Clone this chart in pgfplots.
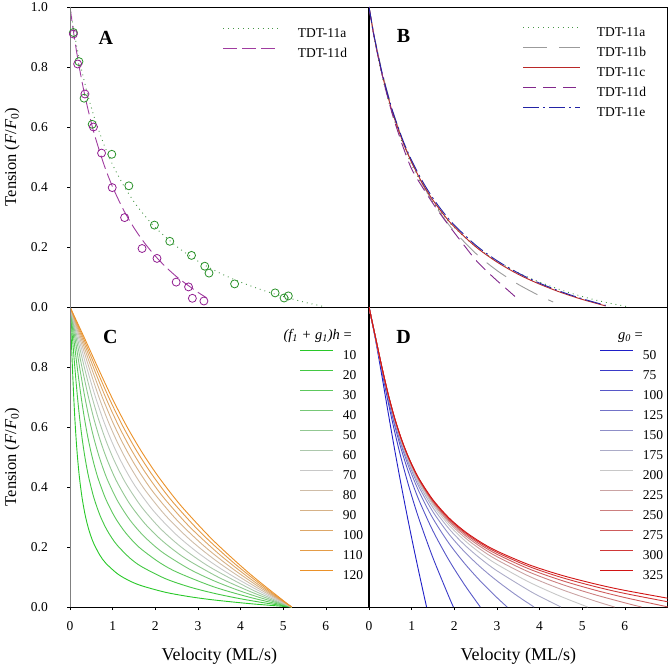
\documentclass[border=0pt]{standalone}
\usepackage{pgfplots}
\pgfplotsset{compat=1.18}
\usepackage{fontspec}
\setmainfont{Liberation Serif}

% series colours
\definecolor{c11a}{RGB}{70,150,70}
\definecolor{c11b}{RGB}{155,155,155}
\definecolor{c11c}{RGB}{185,40,40}
\definecolor{c11d}{RGB}{130,40,140}
\definecolor{c11e}{RGB}{35,35,165}
\definecolor{ptgreen}{RGB}{40,145,40}
\definecolor{ptpurple}{RGB}{145,30,145}
\definecolor{lineA}{RGB}{160,60,160}
% panel C: (f1+g1)h
\definecolor{h10}{RGB}{40,200,40}
\definecolor{h20}{RGB}{67,200,67}
\definecolor{h30}{RGB}{93,200,93}
\definecolor{h40}{RGB}{120,200,120}
\definecolor{h50}{RGB}{147,200,147}
\definecolor{h60}{RGB}{173,200,173}
\definecolor{h70}{RGB}{200,200,200}
\definecolor{h80}{RGB}{207,189,168}
\definecolor{h90}{RGB}{214,178,136}
\definecolor{h100}{RGB}{221,167,104}
\definecolor{h110}{RGB}{228,156,72}
\definecolor{h120}{RGB}{235,145,40}
% panel D: g0
\definecolor{g50}{RGB}{30,30,200}
\definecolor{g75}{RGB}{58,58,200}
\definecolor{g100}{RGB}{87,87,200}
\definecolor{g125}{RGB}{115,115,200}
\definecolor{g150}{RGB}{143,143,200}
\definecolor{g175}{RGB}{172,172,200}
\definecolor{g200}{RGB}{200,200,200}
\definecolor{g225}{RGB}{202,164,164}
\definecolor{g250}{RGB}{204,128,128}
\definecolor{g275}{RGB}{206,92,92}
\definecolor{g300}{RGB}{208,56,56}
\definecolor{g325}{RGB}{210,20,20}

\tikzset{letter/.style={font=\bfseries\fontsize{20}{24}\selectfont, inner sep=0pt}}

\pgfplotsset{
  panel/.style={
    width=298.5pt, height=300pt, scale only axis,
    xmin=0, xmax=7, ymin=0, ymax=1,
    axis line style={line width=0.9pt},
    tick align=outside, major tick length=3pt,
    tick style={line width=0.7pt, black},
    xtick pos=left, ytick pos=left,
    tick label style={font=\fontsize{13.5}{16}\selectfont},
    /pgf/number format/assume math mode=true,
    xticklabel style={inner sep=0pt, yshift=-11pt},
    yticklabel style={inner sep=0pt, xshift=-19pt},
    every axis plot/.append style={line width=0.9pt},
    legend cell align=left,
    legend style={draw=none, fill=none, inner sep=0pt, outer sep=0pt,
      anchor=north west, font=\fontsize{13.5}{16}\selectfont,
      nodes={inner sep=0pt, text height=9.5pt, text depth=0pt},
      row sep=10.3pt},
    every axis y label/.style={at={(axis description cs:-0.194,0.5)},
      rotate=90, anchor=center, font=\fontsize{16.5}{20}\selectfont},
    every axis x label/.style={at={(axis description cs:0.5,-0.163)},
      anchor=center, font=\fontsize{18}{22}\selectfont},
  },
  shortleg/.style={legend image code/.code={\draw[##1] (0pt,4.5pt) -- (33pt,4.5pt);}},
  longleg/.style={legend image code/.code={\draw[##1] (0pt,4.5pt) -- (57pt,4.5pt);}},
}

\begin{document}
\begin{tikzpicture}
\useasboundingbox (0,0) rectangle (669pt,-668pt);

% ---------------- A ----------------
\begin{axis}[panel, at={(70pt,-7pt)}, anchor=north west,
  xtick=\empty, ytick={0,0.2,0.4,0.6,0.8,1}, yticklabels={0.0,0.2,0.4,0.6,0.8,1.0},
  ylabel={Tension (\textit{F}/\textit{F}\textsubscript{0})},
  longleg, legend style={at={(0.5126,0.9297)}, column sep=17pt}]
\addplot[c11a, dash pattern=on 0.9pt off 4pt, smooth] coordinates {
(0,1) (0.1,0.914) (0.2,0.839) (0.3,0.774) (0.4,0.716) (0.5,0.665) (0.6,0.619)
(0.8,0.540) (1.0,0.474) (1.25,0.407) (1.5,0.351) (1.75,0.305) (2.0,0.265)
(2.5,0.202) (3.0,0.153) (3.5,0.114) (4.0,0.083) (4.5,0.057) (5.0,0.035)
(5.5,0.016) (6.0,0)};
\addlegendentry{TDT-11a}
\addplot[lineA, dash pattern=on 14pt off 5pt, smooth] coordinates {
(0,1) (0.1,0.900) (0.2,0.813) (0.3,0.738) (0.4,0.672) (0.5,0.614) (0.6,0.562)
(0.8,0.473) (1.0,0.400) (1.25,0.325) (1.5,0.264) (1.75,0.213) (2.0,0.170)
(2.25,0.133) (2.5,0.101) (2.75,0.074) (3.0,0.049) (3.2,0.031)};
\addlegendentry{TDT-11d}
\addplot[only marks, mark=o, mark size=4pt, ptgreen, mark options={solid, line width=0.8pt}, forget plot] coordinates {
(0.08,0.915) (0.21,0.818) (0.33,0.696) (0.52,0.609) (0.98,0.509) (1.38,0.404)
(1.98,0.273) (2.34,0.219) (2.85,0.172) (3.16,0.136) (3.26,0.113) (3.86,0.077)
(4.81,0.047) (5.02,0.030) (5.12,0.037)};
\addplot[only marks, mark=o, mark size=4pt, ptpurple, mark options={solid, line width=0.8pt}, forget plot] coordinates {
(0.08,0.910) (0.18,0.810) (0.35,0.710) (0.55,0.600) (0.74,0.513) (0.99,0.398)
(1.28,0.298) (1.69,0.195) (2.04,0.162) (2.49,0.083) (2.78,0.067) (2.87,0.029)
(3.14,0.020)};
\node[letter] at (axis description cs:0.12,0.897) {A};
\draw[gray, line width=0.9pt] (rel axis cs:0,0) -- (rel axis cs:0,1);
\end{axis}

% ---------------- B ----------------
\begin{axis}[panel, at={(369pt,-7pt)}, anchor=north west,
  xtick=\empty, ytick=\empty,
  longleg, legend style={at={(0.5159,0.933)}, column sep=16pt}]
\addplot[c11a, dash pattern=on 0.9pt off 4pt, smooth] coordinates {
(0,1) (0.1,0.914) (0.2,0.839) (0.3,0.774) (0.4,0.716) (0.5,0.665) (0.6,0.619)
(0.8,0.540) (1.0,0.474) (1.25,0.407) (1.5,0.351) (1.75,0.305) (2.0,0.265)
(2.5,0.202) (3.0,0.153) (3.5,0.114) (4.0,0.083) (4.5,0.057) (5.0,0.035)
(5.5,0.017) (6.1,0)};
\addlegendentry{TDT-11a}
\addplot[c11b, dash pattern=on 24pt off 12pt, smooth] coordinates {
(0,1) (0.1,0.921) (0.2,0.851) (0.3,0.788) (0.4,0.732) (0.5,0.681) (0.6,0.634)
(0.8,0.552) (1.0,0.483) (1.25,0.4105) (1.5,0.3494) (1.75,0.2973) (2.0,0.2525)
(2.5,0.1791) (3.0,0.1217) (3.5,0.0755) (4.0,0.0375) (4.32,0.0166)};
\addlegendentry{TDT-11b}
\addplot[c11c, smooth] coordinates {
(0,1) (0.1,0.917) (0.2,0.845) (0.3,0.781) (0.4,0.724) (0.5,0.673) (0.6,0.627)
(0.8,0.548) (1.0,0.482) (1.25,0.413) (1.5,0.356) (1.75,0.308) (2.0,0.267)
(2.5,0.201) (3.0,0.150) (3.5,0.109) (4.0,0.0762) (4.5,0.0486) (5.0,0.0253)
(5.55,0.0036)};
\addlegendentry{TDT-11c}
\addplot[c11d, dash pattern=on 13pt off 7pt, smooth] coordinates {
(0,1) (0.1,0.915) (0.2,0.843) (0.3,0.779) (0.4,0.72) (0.5,0.667) (0.6,0.618)
(0.8,0.533) (1.0,0.46) (1.25,0.40) (1.5,0.345) (1.75,0.295) (2.0,0.248)
(2.25,0.202) (2.5,0.157) (2.75,0.121) (3.0,0.088) (3.25,0.057) (3.47,0.029)};
\addlegendentry{TDT-11d}
\addplot[c11e, dash pattern=on 16pt off 4pt on 2pt off 4pt, smooth] coordinates {
(0,1) (0.1,0.919) (0.2,0.848) (0.3,0.785) (0.4,0.729) (0.5,0.679) (0.6,0.633)
(0.8,0.554) (1.0,0.4885) (1.25,0.420) (1.5,0.3626) (1.75,0.3144) (2.0,0.2732)
(2.5,0.2064) (3.0,0.1546) (3.5,0.1133) (4.0,0.0795) (4.5,0.0514) (5.0,0.0277)
(5.55,0.0055)};
\addlegendentry{TDT-11e}
\node[letter] at (axis description cs:0.1156,0.903) {B};
\end{axis}

% ---------------- C ----------------
\begin{axis}[panel, at={(70pt,-307pt)}, anchor=north west,
  xtick={0,1,2,3,4,5,6}, ytick={0,0.2,0.4,0.6,0.8}, yticklabels={0.0,0.2,0.4,0.6,0.8},
  xlabel={Velocity (ML/s)},
  ylabel={Tension (\textit{F}/\textit{F}\textsubscript{0})},
  shortleg, legend style={at={(0.7705,0.8563)}, column sep=9pt}]
\addplot[h10, smooth] coordinates {
(0,1) (0.028,0.9) (0.056,0.8013) (0.084,0.7106) (0.112,0.6326) (0.14,0.5674)
(0.168,0.5129) (0.196,0.4672) (0.224,0.4285) (0.28,0.3670) (0.35,0.3104)
(0.42,0.2685) (0.49,0.2363) (0.56,0.2108) (0.70,0.1728) (0.84,0.1459)
(1.12,0.1100) (1.40,0.0870) (1.68,0.0708) (2.24,0.0490) (2.80,0.0345)
(3.36,0.0237) (4.20,0.0114) (5.04,0.0017) (5.2,0)};
\addlegendentry{10}
\addplot[h20, smooth] coordinates {
(0,1) (0.056,0.8999) (0.112,0.8011) (0.168,0.7102) (0.224,0.6320) (0.28,0.5664)
(0.336,0.5116) (0.392,0.4656) (0.448,0.4265) (0.56,0.3641) (0.70,0.3066)
(0.84,0.2637) (0.98,0.2304) (1.12,0.2038) (1.40,0.1636) (1.68,0.1345)
(2.24,0.0943) (2.80,0.0669) (3.36,0.0463) (3.92,0.0296) (4.48,0.0156) (5.2,0)};
\addlegendentry{20}
\addplot[h30, smooth] coordinates {
(0,1) (0.084,0.8999) (0.168,0.8008) (0.252,0.7095) (0.336,0.6309) (0.42,0.5648)
(0.504,0.5094) (0.588,0.4628) (0.672,0.4231) (0.84,0.3594) (1.05,0.3001)
(1.26,0.2555) (1.47,0.2204) (1.68,0.1920) (2.10,0.1482) (2.52,0.1154)
(3.36,0.0678) (4.20,0.0329) (5.04,0.0048) (5.2,0)};
\addlegendentry{30}
\addplot[h40, smooth] coordinates {
(0,1) (0.112,0.8998) (0.224,0.8004) (0.336,0.7086) (0.448,0.6293) (0.56,0.5625)
(0.672,0.5063) (0.784,0.4588) (0.896,0.4182) (1.12,0.3527) (1.40,0.2910)
(1.68,0.2438) (1.96,0.2062) (2.24,0.1752) (2.80,0.1263) (3.36,0.0883)
(3.92,0.0570) (4.48,0.0302) (5.2,0)};
\addlegendentry{40}
\addplot[h50, smooth] coordinates {
(0,1) (0.14,0.8996) (0.28,0.7998) (0.42,0.7074) (0.56,0.6273) (0.70,0.5595)
(0.84,0.5023) (0.98,0.4537) (1.12,0.4119) (1.40,0.3439) (1.75,0.2791)
(2.10,0.2287) (2.45,0.1878) (2.80,0.1535) (3.50,0.0978) (4.20,0.0530)
(4.76,0.0220) (5.2,0)};
\addlegendentry{50}
\addplot[h60, smooth] coordinates {
(0,1) (0.168,0.8995) (0.336,0.7992) (0.504,0.7059) (0.672,0.6248) (0.84,0.5558)
(1.008,0.4973) (1.176,0.4473) (1.344,0.4041) (1.68,0.3331) (2.10,0.2643)
(2.52,0.2099) (2.94,0.1650) (3.36,0.1265) (4.20,0.0625) (4.704,0.0296) (5.2,0)};
\addlegendentry{60}
\addplot[h70, smooth] coordinates {
(0,1) (0.196,0.8992) (0.392,0.7984) (0.588,0.7041) (0.784,0.6217) (0.98,0.5514)
(1.176,0.4913) (1.372,0.4396) (1.568,0.3947) (1.96,0.3202) (2.45,0.2467)
(2.94,0.1875) (3.43,0.1376) (3.92,0.0943) (4.508,0.0482) (5.2,0)};
\addlegendentry{70}
\addplot[h80, smooth] coordinates {
(0,1) (0.224,0.8990) (0.448,0.7974) (0.672,0.7021) (0.896,0.6182) (1.12,0.5462)
(1.344,0.4843) (1.568,0.4307) (1.792,0.3838) (2.24,0.3050) (2.80,0.2261)
(3.36,0.1613) (3.92,0.1057) (4.48,0.0566) (5.2,0)};
\addlegendentry{80}
\addplot[h90, smooth] coordinates {
(0,1) (0.252,0.8987) (0.504,0.7963) (0.756,0.6997) (1.008,0.6142) (1.26,0.5402)
(1.512,0.4763) (1.764,0.4205) (2.016,0.3713) (2.52,0.2877) (3.15,0.2025)
(3.78,0.1312) (4.41,0.0691) (5.04,0.0134) (5.2,0)};
\addlegendentry{90}
\addplot[h100, smooth] coordinates {
(0,1) (0.28,0.8984) (0.56,0.7951) (0.84,0.6970) (1.12,0.6096) (1.40,0.5335)
(1.68,0.4672) (1.96,0.4089) (2.24,0.3571) (2.80,0.2680) (3.50,0.1758)
(4.20,0.0972) (4.76,0.0410) (5.2,0)};
\addlegendentry{100}
\addplot[h110, smooth] coordinates {
(0,1) (0.308,0.8981) (0.616,0.7937) (0.924,0.6940) (1.232,0.6045) (1.54,0.5260)
(1.848,0.4571) (2.156,0.3960) (2.464,0.3412) (3.08,0.2461) (3.85,0.1459)
(4.62,0.0592) (5.2,0)};
\addlegendentry{110}
\addplot[h120, smooth] coordinates {
(0,1) (0.336,0.8977) (0.672,0.7922) (1.008,0.6906) (1.344,0.5989) (1.68,0.5177)
(2.016,0.4458) (2.352,0.3817) (2.688,0.3237) (3.36,0.2218) (4.20,0.1128)
(5.04,0.0171) (5.2,0)};
\addlegendentry{120}
\node[letter] at (axis description cs:0.135,0.9) {C};
\node[anchor=base east, inner sep=0pt, font=\fontsize{14.5}{17}\selectfont]
  at (axis description cs:0.9447,0.8913) {\textit{(f\textsubscript{1} + g\textsubscript{1})h} =};
\draw[gray, line width=0.9pt] (rel axis cs:0,0) -- (rel axis cs:0,1);
\end{axis}

% ---------------- D ----------------
\begin{axis}[panel, at={(369pt,-307pt)}, anchor=north west,
  xtick={0,1,2,3,4,5,6}, ytick=\empty,
  xlabel={Velocity (ML/s)},
  shortleg, legend style={at={(0.7739,0.8563)}, column sep=9pt}]
\addplot[g50, smooth] coordinates {
(0,1) (0.15,0.8927) (0.3,0.7724) (0.45,0.6474) (0.6,0.5257) (0.75,0.4100)
(0.9,0.3004) (1.05,0.1960) (1.2,0.0962) (1.35,0)};
\addlegendentry{50}
\addplot[g75, smooth] coordinates {
(0,1) (0.15,0.8968) (0.3,0.7885) (0.45,0.6827) (0.6,0.5854) (0.75,0.4979)
(0.9,0.4191) (1.05,0.3475) (1.2,0.2818) (1.5,0.1638) (1.875,0.0339) (1.98,0)};
\addlegendentry{75}
\addplot[g100, smooth] coordinates {
(0,1) (0.15,0.8982) (0.3,0.7942) (0.45,0.6950) (0.6,0.6063) (0.75,0.5286)
(0.9,0.4605) (1.05,0.4004) (1.2,0.3466) (1.5,0.2535) (1.875,0.1560)
(2.25,0.0721) (2.61,0)};
\addlegendentry{100}
\addplot[g125, smooth] coordinates {
(0,1) (0.15,0.8988) (0.3,0.7968) (0.45,0.7007) (0.6,0.6159) (0.75,0.5427)
(0.9,0.4796) (1.05,0.4248) (1.2,0.3765) (1.5,0.2949) (1.875,0.2123)
(2.25,0.1438) (2.625,0.0844) (3.0,0.0314) (3.24,0)};
\addlegendentry{125}
\addplot[g150, smooth] coordinates {
(0,1) (0.15,0.8992) (0.3,0.7982) (0.45,0.7038) (0.6,0.6211) (0.75,0.5504)
(0.9,0.4900) (1.05,0.4380) (1.2,0.3927) (1.5,0.3174) (1.875,0.2429)
(2.25,0.1826) (2.625,0.1317) (3.0,0.0873) (3.45,0.0399) (3.87,0)};
\addlegendentry{150}
\addplot[g175, smooth] coordinates {
(0,1) (0.15,0.8994) (0.3,0.7990) (0.45,0.7056) (0.6,0.6242) (0.75,0.5550)
(0.9,0.4962) (1.05,0.4459) (1.2,0.4024) (1.5,0.3308) (1.875,0.2612)
(2.25,0.2059) (2.625,0.1601) (3.0,0.1208) (3.75,0.0550) (4.125,0.0265) (4.5,0)};
\addlegendentry{175}
\addplot[g200, smooth] coordinates {
(0,1) (0.15,0.8996) (0.3,0.7996) (0.45,0.7068) (0.6,0.6262) (0.75,0.5580)
(0.9,0.5002) (1.05,0.4510) (1.2,0.4087) (1.5,0.3395) (1.875,0.2730)
(2.25,0.2210) (2.625,0.1784) (3.0,0.1424) (3.75,0.0833) (4.5,0.0351) (5.13,0)};
\addlegendentry{200}
\addplot[g225, smooth] coordinates {
(0,1) (0.15,0.8996) (0.3,0.7999) (0.45,0.7076) (0.6,0.6276) (0.75,0.5600)
(0.9,0.5030) (1.05,0.4546) (1.2,0.4130) (1.5,0.3455) (1.875,0.2812)
(2.25,0.2313) (2.625,0.1910) (3.0,0.1573) (3.75,0.1028) (4.5,0.0592)
(5.25,0.0223) (5.76,0)};
\addlegendentry{225}
\addplot[g250, smooth] coordinates {
(0,1) (0.15,0.8997) (0.3,0.8002) (0.45,0.7082) (0.6,0.6286) (0.75,0.5615)
(0.9,0.5050) (1.05,0.4571) (1.2,0.4161) (1.5,0.3498) (1.875,0.2870)
(2.25,0.2388) (2.625,0.2001) (3.0,0.1680) (3.75,0.1168) (4.5,0.0766)
(5.25,0.0430) (6.0,0.0139) (6.39,0)};
\addlegendentry{250}
\addplot[g275, smooth] coordinates {
(0,1) (0.15,0.8998) (0.3,0.8004) (0.45,0.7086) (0.6,0.6294) (0.75,0.5626)
(0.9,0.5064) (1.05,0.4590) (1.2,0.4184) (1.5,0.3529) (1.875,0.2913)
(2.25,0.2443) (2.625,0.2067) (3.0,0.1759) (3.75,0.1271) (4.5,0.0893)
(5.25,0.0582) (6.0,0.0315) (7.02,0)};
\addlegendentry{275}
\addplot[g300, smooth] coordinates {
(0,1) (0.15,0.8998) (0.3,0.8006) (0.45,0.7090) (0.6,0.6299) (0.75,0.5634)
(0.9,0.5076) (1.05,0.4604) (1.2,0.4202) (1.5,0.3554) (1.875,0.2946)
(2.25,0.2485) (2.625,0.2119) (3.0,0.1819) (3.75,0.1351) (4.5,0.0991)
(5.25,0.0700) (6.0,0.0452) (7.5,0.0040) (7.65,0)};
\addlegendentry{300}
\addplot[g325, smooth] coordinates {
(0,1) (0.15,0.8998) (0.3,0.8007) (0.45,0.7092) (0.6,0.6303) (0.75,0.5640)
(0.9,0.5084) (1.05,0.4615) (1.2,0.4215) (1.5,0.3572) (1.875,0.2971)
(2.25,0.2516) (2.625,0.2157) (3.0,0.1865) (3.75,0.1410) (4.5,0.1065)
(5.25,0.0787) (6.0,0.0554) (7.5,0.0170) (8.28,0)};
\addlegendentry{325}
\node[letter] at (axis description cs:0.1156,0.9) {D};
\node[anchor=base east, inner sep=0pt, font=\fontsize{14.5}{17}\selectfont]
  at (axis description cs:0.9179,0.8913) {\textit{g\textsubscript{0}} =};
\end{axis}
\end{tikzpicture}
\end{document}
